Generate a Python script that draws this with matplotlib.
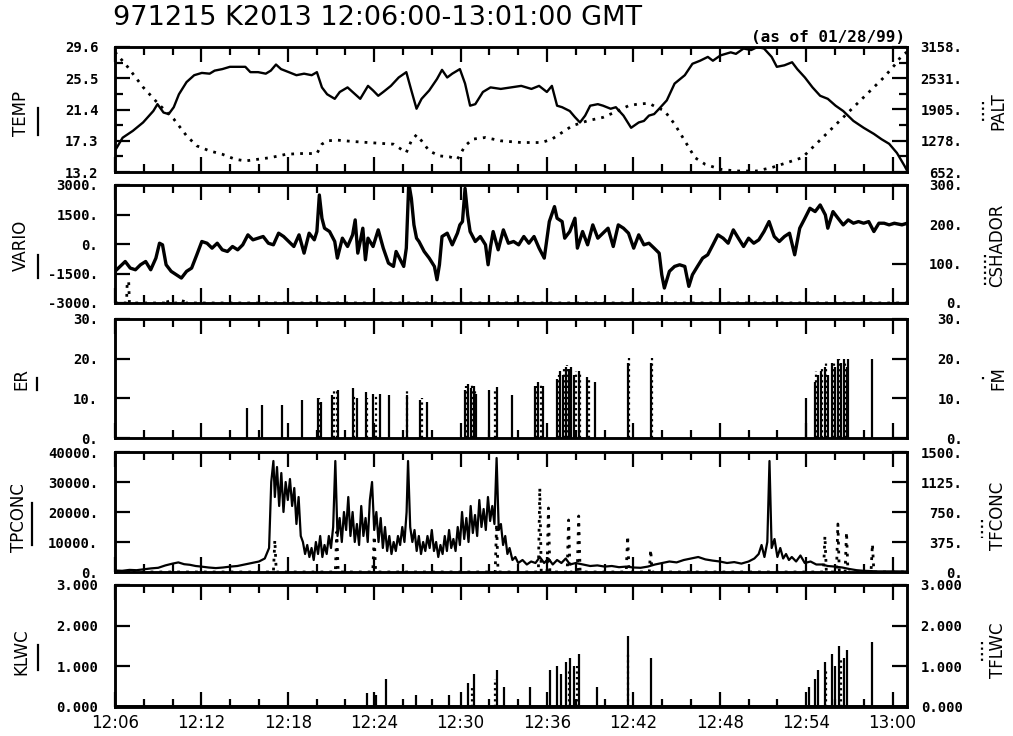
import numpy as np
import matplotlib
matplotlib.use('Agg')
import matplotlib.pyplot as plt
from matplotlib.ticker import FixedLocator, FixedFormatter, MultipleLocator

# ---------------- data (time in minutes after 12:00) ----------------
temp_t = [6.0, 6.53, 7.24, 7.95, 8.66, 8.95, 9.37, 9.73, 10.08, 10.44, 10.97, 11.5, 12.03, 12.57,
          12.92, 13.45, 13.98, 14.52, 15.05, 15.4, 15.94, 16.47, 16.82, 17.18, 17.53, 18.07, 18.6,
          19.13, 19.66, 20.02, 20.37, 20.73, 21.26, 21.61, 22.15, 22.5, 23.03, 23.57, 23.92, 24.28,
          24.63, 25.16, 25.7, 26.23, 26.58, 26.94, 27.29, 27.82, 28.36, 28.71, 29.07, 29.42, 29.95,
          30.31, 30.66, 31.02, 31.55, 32.08, 32.79, 33.5, 34.21, 34.92, 35.45, 35.99, 36.34, 36.7,
          37.05, 37.58, 37.94, 38.29, 38.65, 39.0, 39.53, 39.89, 40.42, 40.78, 41.31, 41.84, 42.37,
          42.73, 43.08, 43.44, 43.79, 44.32, 44.86, 45.57, 46.1, 46.63, 47.17, 47.52, 48.05, 48.76,
          49.12, 49.65, 50.18, 50.61, 51.07, 51.6, 51.96, 52.49, 53.02, 53.38, 53.91, 54.44, 54.97,
          55.5, 56.04, 56.57, 57.28, 57.99, 58.7, 59.23, 59.76, 60.3, 60.83, 61.0]
temp_v = [16.0, 17.7, 18.6, 19.7, 21.2, 22.1, 21.0, 20.8, 21.7, 23.4, 25.0, 25.9, 26.2, 26.1,
          26.5, 26.7, 27.0, 27.0, 27.0, 26.3, 26.3, 26.1, 26.5, 27.3, 26.7, 26.3, 25.9,
          26.1, 25.9, 26.3, 24.3, 23.4, 22.8, 23.7, 24.3, 23.7, 22.8, 24.5, 23.9, 23.2,
          23.7, 24.5, 25.6, 26.3, 23.9, 21.5, 22.8, 23.9, 25.4, 26.6, 25.6, 26.1, 26.7,
          24.8, 21.9, 22.1, 23.7, 24.3, 24.1, 24.3, 24.5, 24.1, 24.5, 23.7, 24.5, 21.9,
          21.7, 21.2, 20.4, 19.7, 20.6, 21.9, 22.1, 21.9, 21.5, 21.7, 20.6, 19.0, 19.7,
          19.9, 20.6, 20.8, 21.5, 22.6, 24.8, 25.9, 27.4, 27.8, 28.3, 27.8, 28.5, 28.9,
          28.7, 29.4, 29.2, 29.8, 29.4, 28.3, 27.0, 27.2, 27.6, 26.7, 25.6, 24.3, 23.2,
          22.8, 21.9, 21.2, 19.9, 19.0, 18.2, 17.5, 16.9, 15.7, 14.0, 13.4]

palt_t = [6.0, 6.89, 7.95, 9.02, 10.08, 10.97, 11.68, 12.57, 13.45, 14.34, 15.05, 15.94, 16.82,
          17.89, 18.95, 20.02, 20.37, 20.73, 21.44, 22.5, 23.57, 24.63, 25.34, 25.87, 26.23, 26.58,
          26.94, 27.29, 27.82, 28.53, 29.24, 29.78, 30.31, 30.84, 31.73, 32.79, 34.21, 35.63, 36.34,
          37.05, 37.76, 38.83, 39.89, 40.96, 41.67, 42.37, 43.08, 43.61, 44.15, 44.86, 45.57, 46.27,
          46.98, 48.05, 49.12, 50.54, 51.6, 52.67, 53.73, 54.44, 55.15, 55.86, 56.57, 57.28, 57.99,
          58.7, 59.41, 60.12, 60.65, 61.0]
palt_v = [3057, 2755, 2352, 2016, 1714, 1378, 1176, 1075, 1008, 908, 874, 908, 941,
          1008, 1022, 1022, 1210, 1277, 1291, 1264, 1243, 1223, 1210, 1109, 1042, 1277,
          1398, 1277, 1075, 975, 955, 908, 1176, 1311, 1344, 1277, 1243, 1243, 1311,
          1445, 1579, 1680, 1747, 1882, 1982, 2016, 2029, 1949, 1882, 1613, 1277, 941,
          807, 706, 672, 672, 740, 840, 941, 1143, 1344, 1546, 1747, 1949, 2150,
          2352, 2553, 2789, 2990, 3057]

vario_t = [6.00, 6.35, 6.71, 7.06, 7.42, 7.77, 8.13, 8.48, 8.84, 9.09, 9.30, 9.55, 9.90, 10.26,
           10.61, 10.97, 11.32, 11.68, 12.03, 12.39, 12.74, 13.10, 13.45, 13.81, 14.16, 14.52,
           14.87, 15.23, 15.58, 15.94, 16.29, 16.65, 17.00, 17.36, 17.71, 18.07, 18.42, 18.78,
           19.13, 19.48, 19.84, 20.02, 20.19, 20.37, 20.55, 20.90, 21.26, 21.44, 21.79, 22.15,
           22.50, 22.68, 22.86, 23.03, 23.21, 23.39, 23.57, 23.92, 24.28, 24.63, 24.99, 25.34,
           25.52, 25.87, 26.05, 26.23, 26.40, 26.58, 26.76, 26.94, 27.11, 27.47, 27.82, 28.18,
           28.36, 28.53, 28.71, 29.07, 29.42, 29.78, 29.95, 30.13, 30.31, 30.49, 30.66, 31.02,
           31.37, 31.73, 31.91, 32.08, 32.26, 32.61, 32.97, 33.32, 33.68, 34.03, 34.39, 34.74,
           35.10, 35.45, 35.81, 36.16, 36.52, 36.70, 37.05, 37.23, 37.58, 37.94, 38.11, 38.47,
           38.82, 39.18, 39.53, 39.89, 40.24, 40.60, 40.95, 41.31, 41.66, 42.02, 42.37, 42.73,
           43.08, 43.44, 43.79, 43.97, 44.15, 44.50, 44.86, 45.21, 45.57, 45.85, 46.10, 46.45,
           46.81, 47.16, 47.52, 47.87, 48.23, 48.58, 48.94, 49.29, 49.65, 50.00, 50.36, 50.71,
           51.07, 51.42, 51.78, 52.13, 52.49, 52.84, 53.20, 53.55, 53.91, 54.26, 54.62, 54.97,
           55.33, 55.50, 55.86, 56.21, 56.57, 56.92, 57.28, 57.63, 57.99, 58.34, 58.70, 59.05,
           59.41, 59.76, 60.12, 60.65, 61.00]
vario_v = [-1390, -1140, -890, -1225, -1310, -1056, -890, -1310, -718, 40, -42, -1056, -1390, -1563,
           -1732, -1390, -1225, -549, 127, 40, -211, 40, -296, -380, -127, -296,
           -42, 465, 212, 296, 381, 40, -42, 550, 381, 127, -127, 465,
           -465, 550, 212, 634, 2493, 1310, 803, 634, 127, -718, 296, -127,
           465, 1226, -465, 127, 803, -803, 296, -127, 719, -211, -972, -1140,
           -380, -890, -1140, -211, 3100, 2324, 972, 296, 127, -380, -718, -1140,
           -1817, -1056, 381, 550, -42, 550, 972, 1141, 2831, 1479, 634, 127,
           381, -42, -1056, -127, 634, -296, 719, 40, 127, -42, 381, 40,
           381, -211, -718, 1141, 1902, 1310, 1141, 296, 634, 1310, -211, 634,
           -42, 972, 296, 550, 803, -127, 972, 803, 550, -211, 465, -42,
           40, -211, -465, -1563, -2239, -1390, -1140, -1056, -1140, -2155, -1563, -1140,
           -718, -549, -42, 465, 296, 40, 719, 296, -127, 296, 40, 212,
           634, 1141, 381, 127, 381, 550, -549, 803, 1310, 1817, 1648, 1986,
           1479, 803, 1648, 1310, 972, 1226, 1057, 1141, 1057, 1141, 634, 1057,
           1057, 972, 1057, 972, 1057]

cshador_t = [6.0, 6.80, 6.85, 6.95, 7.00, 9.50, 9.60, 9.70, 10.70, 10.80, 10.90, 61.0]
cshador_v = [0, 0, 55, 55, 0, 0, 10, 0, 0, 12, 0, 0]

er_t = [15.2, 16.2, 17.6, 19.0, 20.1, 20.3, 21.1, 21.5, 22.5, 22.8, 23.4, 23.9, 24.4, 25.0, 26.3,
        27.2, 27.7, 30.3, 30.5, 30.7, 30.9, 31.1, 32.0, 32.5, 33.6, 35.2, 35.4, 35.7, 36.7, 36.9,
        37.1, 37.3, 37.5, 37.7, 37.9, 38.2, 38.8, 39.3, 41.6, 43.2, 54.0, 54.6, 54.8, 55.0, 55.3,
        55.5, 55.8, 56.0, 56.2, 56.4, 56.6, 56.8, 56.9, 58.6]
er_v = [7.6, 8.3, 8.3, 9.6, 10, 9, 10.8, 12, 12.6, 10, 11.5, 11, 11, 10.8, 10.8,
        9.5, 9, 12, 13.6, 12.5, 13, 11, 12, 12.8, 10.8, 13, 14, 13, 15, 17,
        16, 18, 17.5, 18, 16, 17, 15.5, 14, 19, 19, 10, 14, 16, 17, 18,
        16, 19, 18, 20, 19, 20, 18, 20, 20]
fm_t = [20.2, 21.2, 21.4, 22.6, 23.5, 24.1, 26.3, 27.3, 30.4, 30.8, 31.0, 32.4, 35.3, 35.6, 36.8,
        37.2, 37.4, 37.6, 38.0, 38.3, 38.9, 41.7, 43.3, 54.7, 55.1, 55.4, 55.9, 56.3, 56.7]
fm_v = [10, 12.6, 12, 11, 10, 11, 12, 10, 13, 13.5, 12, 12.5, 13, 13.5, 16,
        18, 18.5, 18, 17, 16.5, 15, 20.7, 20.7, 17, 18, 19, 19.5, 20, 19]

tpconc_t = [6.0, 6.5, 7.0, 7.5, 8.0, 8.5, 9.0, 9.5, 10.0, 10.4, 10.8, 11.2, 11.6, 12.0, 12.5, 13.0,
            13.5, 14.0, 14.5, 15.0, 15.5, 16.0, 16.4, 16.7, 16.85, 17.0, 17.1, 17.25, 17.4, 17.55,
            17.7, 17.85, 18.0, 18.15, 18.3, 18.45, 18.6, 18.75, 18.9, 19.05, 19.2, 19.35, 19.5,
            19.65, 19.8, 19.95, 20.1, 20.25, 20.4, 20.55, 20.7, 20.85, 21.0, 21.15, 21.3, 21.45,
            21.6, 21.75, 21.9, 22.05, 22.2, 22.35, 22.5, 22.65, 22.8, 22.95, 23.1, 23.25, 23.4,
            23.55, 23.7, 23.85, 24.0, 24.15, 24.3, 24.45, 24.6, 24.75, 24.9, 25.05, 25.2, 25.35,
            25.5, 25.65, 25.8, 25.95, 26.1, 26.25, 26.35, 26.5, 26.65, 26.8, 26.95, 27.1, 27.25,
            27.4, 27.55, 27.7, 27.85, 28.0, 28.15, 28.3, 28.45, 28.6, 28.75, 28.9, 29.05, 29.2,
            29.35, 29.5, 29.65, 29.8, 29.95, 30.1, 30.25, 30.4, 30.55, 30.7, 30.85, 31.0, 31.15,
            31.3, 31.45, 31.6, 31.75, 31.9, 32.05, 32.2, 32.35, 32.5, 32.65, 32.8, 32.95, 33.1,
            33.25, 33.4, 33.6, 33.8, 34.0, 34.3, 34.6, 34.9, 35.2, 35.5, 35.8, 36.1, 36.4, 36.7,
            37.0, 37.3, 37.6, 38.0, 38.5, 39.0, 39.5, 40.0, 40.5, 41.0, 41.5, 42.0, 42.5, 43.0,
            43.5, 44.0, 44.5, 45.0, 45.5, 46.0, 46.5, 47.0, 47.5, 48.0, 48.5, 49.0, 49.5, 50.0,
            50.4, 50.7, 50.9, 51.1, 51.3, 51.45, 51.6, 51.8, 52.0, 52.2, 52.4, 52.6, 52.8, 53.0,
            53.3, 53.6, 53.9, 54.3, 54.7, 55.1, 55.5, 56.0, 56.5, 57.0, 57.5, 58.0, 58.5, 59.0,
            60.0, 61.0]
tpconc_v = [500, 400, 700, 600, 900, 1200, 1400, 2200, 2800, 3200, 2600, 2400, 2000, 1800, 1500, 1300,
            1500, 1800, 2000, 2500, 3000, 3500, 4500, 8000, 30000, 37000, 25000, 35000, 22000, 33000,
            20000, 30000, 24000, 31000, 22000, 28000, 16000, 25000, 12000, 10000, 6000, 9000, 5000,
            8000, 4000, 10000, 6000, 12000, 5000, 9000, 6000, 12000, 8000, 15000, 37000, 12000,
            18000, 10000, 20000, 14000, 25000, 12000, 20000, 10000, 16000, 9000, 22000, 12000, 18000,
            10000, 24000, 30000, 14000, 20000, 10000, 18000, 8000, 15000, 7000, 12000, 6000, 10000,
            7000, 12000, 9000, 15000, 10000, 20000, 37000, 15000, 10000, 14000, 7000, 12000, 6000,
            10000, 7000, 12000, 8000, 14000, 7000, 10000, 5000, 9000, 6000, 12000, 7000, 14000,
            8000, 11000, 7000, 15000, 9000, 20000, 11000, 18000, 10000, 22000, 13000, 19000, 12000,
            24000, 15000, 21000, 14000, 25000, 17000, 22000, 16000, 38000, 14000, 16000, 9000, 12000,
            6000, 8000, 4000, 5000, 3000, 4000, 2500, 3500, 3000, 5000, 3000, 4500, 2500, 4000,
            3000, 4500, 2500, 3000, 2500, 2000, 2200, 1800, 2000, 1600, 1800, 1500, 1400, 1800,
            2500, 3000, 3500, 3200, 4000, 4500, 5000, 4200, 3800, 3500, 3000, 3300, 2800, 3500,
            4500, 6000, 9000, 5000, 10000, 37000, 8000, 11000, 5000, 8000, 4500, 6000, 4000, 5000,
            3500, 5500, 3000, 3500, 2500, 2500, 2000, 1800, 1500, 1000, 600, 400, 300, 200,
            200, 150]
tfconc_t = [6.0, 17.0, 17.1, 17.2, 21.3, 21.4, 21.5, 23.9, 24.0, 24.1, 32.4, 32.5, 32.6, 35.4, 35.5,
            35.6, 36.0, 36.1, 36.2, 37.4, 37.5, 37.6, 38.1, 38.2, 38.3, 41.5, 41.6, 41.7, 43.1, 43.2,
            43.3, 55.2, 55.3, 55.4, 56.1, 56.2, 56.3, 56.7, 56.8, 56.9, 58.5, 58.6, 58.7, 61.0]
tfconc_v = [0, 0, 400, 0, 0, 500, 0, 0, 450, 0, 0, 600, 0, 0, 1050,
            0, 0, 800, 0, 0, 650, 0, 0, 700, 0, 0, 450, 0, 0, 280,
            0, 0, 450, 0, 0, 600, 0, 0, 500, 0, 0, 350, 0, 0]

klwc_t = [23.5, 24.1, 24.8, 26.9, 29.2, 30.5, 30.9, 32.5, 33.0, 34.8, 36.2, 36.7, 37.0, 37.3, 37.6,
          37.9, 38.2, 39.5, 41.6, 43.2, 54.2, 54.6, 54.8, 55.3, 55.8, 56.0, 56.3, 56.6, 56.8, 58.6]
klwc_v = [0.35, 0.3, 0.7, 0.3, 0.3, 0.6, 0.8, 0.9, 0.5, 0.5, 0.9, 1.0, 0.8, 1.1, 1.2,
          1.0, 1.3, 0.5, 1.75, 1.2, 0.5, 0.7, 0.9, 1.1, 1.3, 1.0, 1.5, 1.2, 1.4, 1.6]
tflwc_t = [30.8, 32.4, 37.5, 38.1, 41.6, 55.4, 56.4]
tflwc_v = [0.5, 0.7, 0.9, 1.0, 1.3, 0.9, 1.2]

xtick_labels = ['12:06', '12:12', '12:18', '12:24', '12:30', '12:36', '12:42', '12:48', '12:54', '13:00']
xtick_vals = [6, 12, 18, 24, 30, 36, 42, 48, 54, 60]

# ---------------- layout ----------------
W, H = 1013, 736
fig = plt.figure(figsize=(W / 100, H / 100), dpi=100)
L, R = 115, 907
panels = [(47, 172), (185, 303), (319, 438), (452, 572), (585, 707)]

TICKFONT = dict(family='DejaVu Sans Mono', weight='bold', size=10)


def make_axes(top, bot):
    ax = fig.add_axes([L / W, 1 - bot / H, (R - L) / W, (bot - top) / H])
    ax2 = ax.twinx()
    for a in (ax, ax2):
        for s in a.spines.values():
            s.set_linewidth(1.8)
    return ax, ax2


def style(ax, ax2, lt, ll, rt, rl, showx, minor):
    ax.set_xlim(6, 61)
    ax.xaxis.set_major_locator(FixedLocator(xtick_vals))
    ax.xaxis.set_minor_locator(MultipleLocator(2))
    ax.tick_params(axis='x', which='both', direction='in', top=True, bottom=True, width=1.6)
    ax.tick_params(axis='x', which='major', length=11)
    ax.tick_params(axis='x', which='minor', length=6)
    if showx:
        ax.xaxis.set_major_formatter(FixedFormatter(xtick_labels))
        ax.tick_params(axis='x', which='major', labelsize=12, pad=5)
    else:
        ax.tick_params(axis='x', labelbottom=False)
    for a, t, lab, side in ((ax, lt, ll, 'left'), (ax2, rt, rl, 'right')):
        a.set_ylim(t[0], t[-1])
        a.yaxis.set_major_locator(FixedLocator(t))
        if minor:
            a.yaxis.set_minor_locator(FixedLocator([(p + q) / 2 for p, q in zip(t[:-1], t[1:])]))
        a.yaxis.set_major_formatter(FixedFormatter(lab))
        a.tick_params(axis='y', which='both', direction='in', width=1.6,
                      left=(side == 'left'), right=(side == 'right'),
                      pad=(12 if side == 'left' else 40))
        a.tick_params(axis='y', which='major', length=11)
        a.tick_params(axis='y', which='minor', length=6)
        for tl in a.get_yticklabels():
            tl.set_fontproperties(TICKFONT)
            if side == 'right':
                tl.set_horizontalalignment('right')


SOLID = dict(color='black', lw=1.7)
DOT = dict(color='black', lw=2.0, linestyle=(0, (1, 2.2)))

# panel 1
ax, ax2 = make_axes(*panels[0])
ax.plot(temp_t, np.clip(temp_v, None, 29.6), **SOLID)
ax2.plot(palt_t, palt_v, **DOT)
style(ax, ax2, [13.2, 17.3, 21.4, 25.5, 29.6], ['13.2', '17.3', '21.4', '25.5', '29.6'],
      [652, 1278.5, 1905, 2531.5, 3158], ['652.', '1278.', '1905.', '2531.', '3158.'], False, True)

# panel 2
ax, ax2 = make_axes(*panels[1])
ax.plot(vario_t, vario_v, color='black', lw=2.4)
ax2.plot(cshador_t, cshador_v, **DOT)
style(ax, ax2, [-3000, -1500, 0, 1500, 3000], ['-3000.', '-1500.', '0.', '1500.', '3000.'],
      [0, 100, 200, 300], ['0.', '100.', '200.', '300.'], False, False)

# panel 3
ax, ax2 = make_axes(*panels[2])
ax.vlines(er_t, 0, er_v, color='black', lw=1.6)
ax2.vlines(fm_t, 0, fm_v, color='black', lw=1.6, linestyles=(0, (1, 1.5)))
style(ax, ax2, [0, 10, 20, 30], ['0.', '10.', '20.', '30.'],
      [0, 10, 20, 30], ['0.', '10.', '20.', '30.'], False, False)

# panel 4
ax, ax2 = make_axes(*panels[3])
ax.plot(tpconc_t, tpconc_v, color='black', lw=1.6)
ax2.plot(tfconc_t, tfconc_v, **DOT)
style(ax, ax2, [0, 10000, 20000, 30000, 40000], ['0.', '10000.', '20000.', '30000.', '40000.'],
      [0, 375, 750, 1125, 1500], ['0.', '375.', '750.', '1125.', '1500.'], False, False)

# panel 5
ax, ax2 = make_axes(*panels[4])
ax.vlines(klwc_t, 0.03, klwc_v, color='black', lw=1.6)
ax.plot([6, 61], [0.03, 0.03], color='black', lw=1.4)
ax2.vlines(tflwc_t, 0, tflwc_v, color='black', lw=1.6, linestyles=(0, (1, 1.5)))
style(ax, ax2, [0, 1, 2, 3], ['0.000', '1.000', '2.000', '3.000'],
      [0, 1, 2, 3], ['0.000', '1.000', '2.000', '3.000'], True, False)

# overlay for titles and series names
ov = fig.add_axes([0, 0, 1, 1], zorder=-1)
ov.set_xlim(0, W)
ov.set_ylim(H, 0)
ov.axis('off')

ov.text(113, 18, '971215 K2013 12:06:00-13:01:00 GMT', fontsize=19.5, ha='left', va='center',
        family='DejaVu Sans')
ov.text(905, 37, '(as of 01/28/99)', fontsize=11.5, ha='right', va='center',
        family='DejaVu Sans Mono', weight='bold')

left_names = [('TEMP', 21, 113, 38, 108, 135), ('VARIO', 21, 245, 38, 255, 278),
              ('ER', 21, 379, 37, 378, 390), ('TPCONC', 19, 518, 32, 503, 545),
              ('KLWC', 21, 652, 38, 645, 670)]
for name, x, y, lx, ly0, ly1 in left_names:
    ov.text(x, y, name, rotation=90, ha='center', va='center', fontsize=12, family='DejaVu Sans')
    ov.plot([lx, lx], [ly0, ly1], color='black', lw=1.6)

right_names = [('PALT', 998, 111, 983, 102, 122), ('CSHADOR', 997, 245, 985, 255, 285),
               ('FM', 998, 378, 983, 377, 381), ('TFCONC', 998, 516, 982, 520, 538),
               ('TFLWC', 998, 650, 982, 642, 663)]
for name, x, y, lx, ly0, ly1 in right_names:
    ov.text(x, y, name, rotation=90, ha='center', va='center', fontsize=12, family='DejaVu Sans')
    ov.plot([lx, lx], [ly0, ly1], color='black', lw=1.6, linestyle=(0, (1, 1.5)))

fig.savefig('out.png', dpi=100)
